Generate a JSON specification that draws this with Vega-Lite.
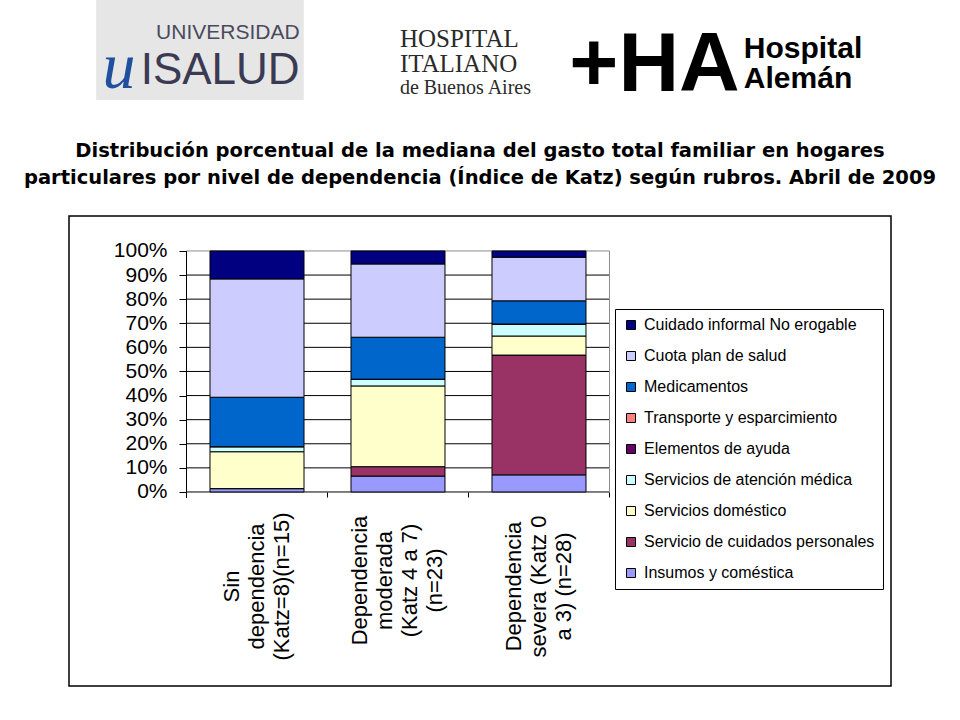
{
  "$schema": "https://vega.github.io/schema/vega-lite/v6.json",
  "padding": 0,
  "background": "white",
  "config": {"font": "Liberation Sans"},
  "datasets": {
    "gasto": [
      {"cat": "Sin dependencia (Katz=8)(n=15)", "rubro": "Insumos y coméstica", "nivel": 1, "pct": 1.4},
      {"cat": "Sin dependencia (Katz=8)(n=15)", "rubro": "Servicio de cuidados personales", "nivel": 2, "pct": 0},
      {"cat": "Sin dependencia (Katz=8)(n=15)", "rubro": "Servicios doméstico", "nivel": 3, "pct": 15.3},
      {"cat": "Sin dependencia (Katz=8)(n=15)", "rubro": "Servicios de atención médica", "nivel": 4, "pct": 2.1},
      {"cat": "Sin dependencia (Katz=8)(n=15)", "rubro": "Elementos de ayuda", "nivel": 5, "pct": 0},
      {"cat": "Sin dependencia (Katz=8)(n=15)", "rubro": "Transporte y esparcimiento", "nivel": 6, "pct": 0},
      {"cat": "Sin dependencia (Katz=8)(n=15)", "rubro": "Medicamentos", "nivel": 7, "pct": 20.5},
      {"cat": "Sin dependencia (Katz=8)(n=15)", "rubro": "Cuota plan de salud", "nivel": 8, "pct": 49.1},
      {"cat": "Sin dependencia (Katz=8)(n=15)", "rubro": "Cuidado informal No erogable", "nivel": 9, "pct": 11.6},
      {"cat": "Dependencia moderada (Katz 4 a 7) (n=23)", "rubro": "Insumos y coméstica", "nivel": 1, "pct": 6.6},
      {"cat": "Dependencia moderada (Katz 4 a 7) (n=23)", "rubro": "Servicio de cuidados personales", "nivel": 2, "pct": 3.9},
      {"cat": "Dependencia moderada (Katz 4 a 7) (n=23)", "rubro": "Servicios doméstico", "nivel": 3, "pct": 33.5},
      {"cat": "Dependencia moderada (Katz 4 a 7) (n=23)", "rubro": "Servicios de atención médica", "nivel": 4, "pct": 2.8},
      {"cat": "Dependencia moderada (Katz 4 a 7) (n=23)", "rubro": "Elementos de ayuda", "nivel": 5, "pct": 0},
      {"cat": "Dependencia moderada (Katz 4 a 7) (n=23)", "rubro": "Transporte y esparcimiento", "nivel": 6, "pct": 0},
      {"cat": "Dependencia moderada (Katz 4 a 7) (n=23)", "rubro": "Medicamentos", "nivel": 7, "pct": 17.4},
      {"cat": "Dependencia moderada (Katz 4 a 7) (n=23)", "rubro": "Cuota plan de salud", "nivel": 8, "pct": 30.4},
      {"cat": "Dependencia moderada (Katz 4 a 7) (n=23)", "rubro": "Cuidado informal No erogable", "nivel": 9, "pct": 5.4},
      {"cat": "Dependencia severa (Katz 0 a 3) (n=28)", "rubro": "Insumos y coméstica", "nivel": 1, "pct": 7.1},
      {"cat": "Dependencia severa (Katz 0 a 3) (n=28)", "rubro": "Servicio de cuidados personales", "nivel": 2, "pct": 49.7},
      {"cat": "Dependencia severa (Katz 0 a 3) (n=28)", "rubro": "Servicios doméstico", "nivel": 3, "pct": 7.9},
      {"cat": "Dependencia severa (Katz 0 a 3) (n=28)", "rubro": "Servicios de atención médica", "nivel": 4, "pct": 5.0},
      {"cat": "Dependencia severa (Katz 0 a 3) (n=28)", "rubro": "Elementos de ayuda", "nivel": 5, "pct": 0},
      {"cat": "Dependencia severa (Katz 0 a 3) (n=28)", "rubro": "Transporte y esparcimiento", "nivel": 6, "pct": 0},
      {"cat": "Dependencia severa (Katz 0 a 3) (n=28)", "rubro": "Medicamentos", "nivel": 7, "pct": 9.6},
      {"cat": "Dependencia severa (Katz 0 a 3) (n=28)", "rubro": "Cuota plan de salud", "nivel": 8, "pct": 18.1},
      {"cat": "Dependencia severa (Katz 0 a 3) (n=28)", "rubro": "Cuidado informal No erogable", "nivel": 9, "pct": 2.6}
    ],
    "logos": [
      {"logo": "isalud", "parte": "caja"},
      {"logo": "isalud", "parte": "sup", "texto": "UNIVERSIDAD"},
      {"logo": "isalud", "parte": "main", "texto": "ISALUD"},
      {"logo": "isalud", "parte": "u", "texto": "u"},
      {"logo": "italiano", "parte": "name", "texto": "HOSPITAL\nITALIANO"},
      {"logo": "italiano", "parte": "sub", "texto": "de Buenos Aires"},
      {"logo": "aleman", "parte": "mark", "texto": "+HA"},
      {"logo": "aleman", "parte": "name", "texto": "Hospital\nAlemán"}
    ],
    "grilla": [
      {"v": 0}, {"v": 10}, {"v": 20}, {"v": 30}, {"v": 40}, {"v": 50},
      {"v": 60}, {"v": 70}, {"v": 80}, {"v": 90}, {"v": 100}
    ]
  },
  "spacing": 116,
  "bounds": "flush",
  "center": true,
  "vconcat": [
    {
      "width": 960,
      "height": 100,
      "view": {"stroke": null, "fill": "white"},
      "data": {"name": "logos"},
      "encoding": {
        "x": {"field": "logo", "type": "nominal", "axis": null,
              "scale": {"domain": ["isalud", "italiano", "aleman"], "paddingInner": 0.2, "paddingOuter": 0.4497, "align": 0.412}}
      },
      "layer": [
        {
          "transform": [{"filter": "datum.parte == 'caja'"}],
          "mark": {"type": "rect", "fill": "#e6e6e6"}
        },
        {
          "transform": [{"filter": "datum.parte == 'sup'"}],
          "mark": {"type": "text", "align": "right", "baseline": "middle", "dy": -17, "fontSize": 21, "fill": "#4a4a5c", "font": "Liberation Sans"},
          "encoding": {
            "x": {"field": "logo", "type": "nominal", "bandPosition": 0.98},
            "text": {"field": "texto"}
          }
        },
        {
          "transform": [{"filter": "datum.parte == 'main'"}],
          "mark": {"type": "text", "align": "right", "baseline": "middle", "dy": 21, "fontSize": 44, "fill": "#3a3a52", "font": "Liberation Sans"},
          "encoding": {
            "x": {"field": "logo", "type": "nominal", "bandPosition": 0.98},
            "text": {"field": "texto"}
          }
        },
        {
          "transform": [{"filter": "datum.parte == 'u'"}],
          "mark": {"type": "text", "align": "left", "baseline": "middle", "dy": 18, "fontSize": 66, "fontStyle": "italic", "fill": "#1f4f9f", "font": "Liberation Serif"},
          "encoding": {
            "x": {"field": "logo", "type": "nominal", "bandPosition": 0.03},
            "text": {"field": "texto"}
          }
        },
        {
          "transform": [{"filter": "datum.parte == 'name' && datum.logo == 'italiano'"}],
          "mark": {"type": "text", "align": "left", "baseline": "middle", "dy": -11, "fontSize": 25, "lineHeight": 25, "lineBreak": "\n", "fill": "#2a2a2a", "font": "Liberation Serif"},
          "encoding": {
            "x": {"field": "logo", "type": "nominal", "bandPosition": 0.213},
            "text": {"field": "texto"}
          }
        },
        {
          "transform": [{"filter": "datum.parte == 'sub'"}],
          "mark": {"type": "text", "align": "left", "baseline": "middle", "dy": 38, "fontSize": 20, "fill": "#2a2a2a", "font": "Liberation Serif"},
          "encoding": {
            "x": {"field": "logo", "type": "nominal", "bandPosition": 0.213},
            "text": {"field": "texto"}
          }
        },
        {
          "transform": [{"filter": "datum.parte == 'mark'"}],
          "mark": {"type": "text", "align": "right", "baseline": "middle", "dy": 16, "fontSize": 84, "fontWeight": "bold", "fill": "black", "font": "Liberation Sans"},
          "encoding": {
            "x": {"field": "logo", "type": "nominal", "bandPosition": 0.6},
            "text": {"field": "texto"}
          }
        },
        {
          "transform": [{"filter": "datum.parte == 'name' && datum.logo == 'aleman'"}],
          "mark": {"type": "text", "align": "left", "baseline": "middle", "dy": -1, "fontSize": 30, "fontWeight": "bold", "lineHeight": 30, "lineBreak": "\n", "fill": "black", "font": "Liberation Sans"},
          "encoding": {
            "x": {"field": "logo", "type": "nominal", "bandPosition": 0.62},
            "text": {"field": "texto"}
          }
        }
      ]
    },
    {
      "width": 822,
      "height": 470,
      "view": {"stroke": "black", "strokeWidth": 1.5},
      "title": {
        "text": ["Distribución porcentual de la mediana del gasto total familiar en hogares", "particulares por nivel de dependencia (Índice de Katz) según rubros. Abril de 2009"],
        "font": "DejaVu Sans",
        "fontSize": 19.5,
        "fontWeight": "bold",
        "color": "black",
        "lineHeight": 27,
        "anchor": "middle",
        "frame": "group",
        "offset": 28
      },
      "layer": [
        {
          "data": {"name": "grilla"},
          "mark": {"type": "rule", "strokeWidth": 1},
          "encoding": {
            "y": {"field": "v", "type": "quantitative", "axis": {"title": null}, "scale": {"domain": [-80.5, 114.5], "nice": false, "zero": false}},
            "x": {"datum": "izq", "type": "nominal", "bandPosition": 1.25, "axis": {"title": null},
                  "scale": {"domain": ["izq", "Sin dependencia (Katz=8)(n=15)", "Dependencia moderada (Katz 4 a 7) (n=23)", "Dependencia severa (Katz 0 a 3) (n=28)", "der1", "der2"], "paddingInner": 0.3333, "paddingOuter": 0.0816, "align": 0}},
            "x2": {"datum": "der1", "bandPosition": -0.25},
            "color": {"condition": {"test": "datum.v == 100", "value": "#8c8c8c"}, "value": "black"}
          }
        },
        {
          "data": {"values": [{}]},
          "mark": {"type": "rule", "strokeWidth": 1, "color": "black"},
          "encoding": {
            "x": {"datum": "izq", "type": "nominal", "bandPosition": 1.25, "axis": {"title": null},
                  "scale": {"domain": ["izq", "Sin dependencia (Katz=8)(n=15)", "Dependencia moderada (Katz 4 a 7) (n=23)", "Dependencia severa (Katz 0 a 3) (n=28)", "der1", "der2"], "paddingInner": 0.3333, "paddingOuter": 0.0816, "align": 0}},
            "y": {"datum": -2.5, "type": "quantitative", "axis": {"title": null}, "scale": {"domain": [-80.5, 114.5], "nice": false, "zero": false}},
            "y2": {"datum": 100}
          }
        },
        {
          "data": {"values": [{}]},
          "mark": {"type": "rule", "strokeWidth": 1, "color": "#8c8c8c"},
          "encoding": {
            "x": {"datum": "der1", "type": "nominal", "bandPosition": -0.25, "axis": {"title": null},
                  "scale": {"domain": ["izq", "Sin dependencia (Katz=8)(n=15)", "Dependencia moderada (Katz 4 a 7) (n=23)", "Dependencia severa (Katz 0 a 3) (n=28)", "der1", "der2"], "paddingInner": 0.3333, "paddingOuter": 0.0816, "align": 0}},
            "y": {"datum": 0, "type": "quantitative", "axis": {"title": null}, "scale": {"domain": [-80.5, 114.5], "nice": false, "zero": false}},
            "y2": {"datum": 100}
          }
        },
        {
          "data": {"name": "gasto"},
          "mark": {"type": "bar", "stroke": "black", "strokeWidth": 1},
          "encoding": {
            "x": {
              "field": "cat", "type": "nominal", "sort": null,
              "scale": {"domain": ["izq", "Sin dependencia (Katz=8)(n=15)", "Dependencia moderada (Katz 4 a 7) (n=23)", "Dependencia severa (Katz 0 a 3) (n=28)", "der1", "der2"], "paddingInner": 0.3333, "paddingOuter": 0.0816, "align": 0},
              "axis": {
                "orient": "bottom", "offset": -194, "title": null, "domain": false, "grid": false,
                "values": ["izq", "Sin dependencia (Katz=8)(n=15)", "Dependencia moderada (Katz 4 a 7) (n=23)", "Dependencia severa (Katz 0 a 3) (n=28)"],
                "ticks": true, "tickSize": 5, "tickColor": "black", "tickWidth": 1,
                "bandPosition": 1.25,
                "labelOffset": {"condition": {"test": "datum.value == 'Dependencia moderada (Katz 4 a 7) (n=23)'", "value": -37.5}, "value": -25},
                "labelAngle": 270, "labelAlign": "center", "labelBaseline": "middle",
                "labelFont": "Liberation Sans", "labelFontSize": 22, "labelLineHeight": 25, "labelColor": "black",
                "labelLimit": 0, "labelOverlap": false,
                "labelPadding": {"condition": {"test": "datum.value == 'Dependencia moderada (Katz 4 a 7) (n=23)'", "value": 83}, "value": 89},
                "labelExpr": "datum.value == 'Sin dependencia (Katz=8)(n=15)' ? ['Sin', 'dependencia', '(Katz=8)(n=15)'] : datum.value == 'Dependencia moderada (Katz 4 a 7) (n=23)' ? ['Dependencia', 'moderada', '(Katz 4 a 7)', '(n=23)'] : datum.value == 'Dependencia severa (Katz 0 a 3) (n=28)' ? ['Dependencia', 'severa (Katz 0', 'a 3) (n=28)'] : ''"
              }
            },
            "y": {
              "field": "pct", "type": "quantitative", "stack": "zero",
              "scale": {"domain": [-80.5, 114.5], "nice": false, "zero": false},
              "axis": {
                "orient": "left",
                "values": [0, 10, 20, 30, 40, 50, 60, 70, 80, 90, 100],
                "labelExpr": "datum.value + '%'",
                "offset": -117, "title": null, "domain": false, "grid": false,
                "ticks": true, "tickSize": 7, "tickColor": "black", "tickWidth": 1,
                "labelFont": "Liberation Sans", "labelFontSize": 21, "labelColor": "black",
                "labelPadding": 12, "labelOverlap": false
              }
            },
            "color": {
              "field": "rubro", "type": "nominal",
              "scale": {
                "domain": ["Cuidado informal No erogable", "Cuota plan de salud", "Medicamentos", "Transporte y esparcimiento", "Elementos de ayuda", "Servicios de atención médica", "Servicios doméstico", "Servicio de cuidados personales", "Insumos y coméstica"],
                "range": ["#000080", "#ccccff", "#0066cc", "#ff8080", "#660066", "#ccffff", "#ffffcc", "#993366", "#9999ff"]
              },
              "legend": {
                "title": null, "orient": "none", "direction": "vertical", "legendX": 615, "legendY": 309,
                "symbolType": "square", "symbolSize": 81, "symbolStrokeColor": "black", "symbolStrokeWidth": 1,
                "labelFont": "Liberation Sans", "labelFontSize": 16, "labelColor": "black", "labelLimit": 0,
                "labelOffset": 5, "rowPadding": 15, "padding": 8,
                "strokeColor": "black", "fillColor": "white"
              }
            },
            "order": {"field": "nivel", "type": "quantitative"}
          }
        }
      ]
    }
  ]
}
